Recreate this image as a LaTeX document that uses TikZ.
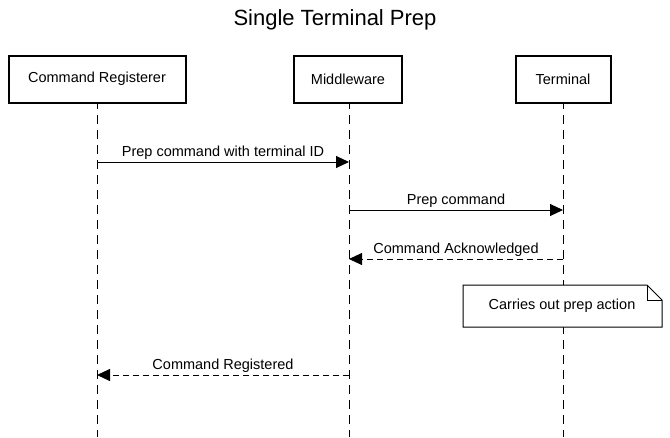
\documentclass[tikz,border=0pt]{standalone}
\usepackage{fontspec}
\setmainfont{Liberation Sans}
\usetikzlibrary{arrows.meta}

\tikzset{
  actor/.style={draw, line width=2pt, fill=white, minimum height=47pt, font=\fontsize{14.5}{17}\selectfont},
  lifeline/.style={dash pattern=on 9pt off 6pt, line width=1pt},
  msg/.style={-{Triangle[length=13pt,width=12pt]}, line width=1pt},
  reply/.style={msg, dash pattern=on 6pt off 4pt},
  lbl/.style={font=\fontsize{14.5}{17}\selectfont, above, inner sep=2pt}
}

\begin{document}
\begin{tikzpicture}[x=1pt,y=-1pt]
\useasboundingbox (0,0) rectangle (670,437);
\node[font=\fontsize{22}{26}\selectfont] (title) at (335,20) {Single Terminal Prep};

% lifelines
\coordinate (regEnd) at (97,437);
\coordinate (midEnd) at (349,437);
\coordinate (termEnd) at (563,437);
\draw[lifeline] (97,100) -- (regEnd);
\draw[lifeline] (349,100) -- (midEnd);
\draw[lifeline] (563,100) -- (termEnd);

\node[actor, minimum width=177pt] (reg) at (97,79) {Command Registerer};
\node[actor, minimum width=108pt] (mid) at (348,79) {Middleware};
\node[actor, minimum width=95pt] (term) at (563,79) {Terminal};

% messages
\coordinate (m1s) at (97,162);
\coordinate (m1e) at (349,162);
\draw[msg] (m1s) -- node[lbl] {Prep command with terminal ID} (m1e);

\coordinate (m2s) at (349,210);
\coordinate (m2e) at (563,210);
\draw[msg] (m2s) -- node[lbl] {Prep command} (m2e);

\coordinate (m3s) at (563,259);
\coordinate (m3e) at (349,259);
\draw[reply] (m3s) -- node[lbl] {Command Acknowledged} (m3e);

% note on terminal
\draw[fill=white, line width=1pt] (463,285) -- (647,285) -- (662,300) -- (662,327) -- (463,327) -- cycle;
\draw[line width=1pt] (647,285) -- (647,300) -- (662,300);
\node[font=\fontsize{14.5}{17}\selectfont] (note) at (562,306) {Carries out prep action};

\coordinate (m4s) at (349,375);
\coordinate (m4e) at (97,375);
\draw[reply] (m4s) -- node[lbl] {Command Registered} (m4e);
\end{tikzpicture}
\end{document}
